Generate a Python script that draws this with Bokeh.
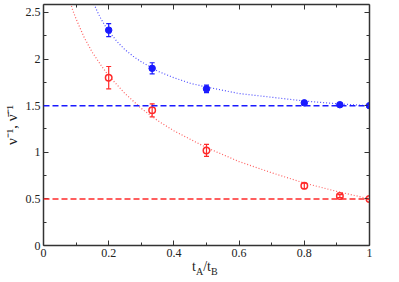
from bokeh.plotting import figure
from bokeh.layouts import column
from bokeh.models import (Range1d, LinearAxis, FixedTicker, CustomJSTickFormatter,
                          Whisker, TeeHead, ColumnDataSource, Span, Div,
                          CustomLabelingPolicy)
from bokeh.embed import file_html
from bokeh.resources import INLINE

# ---- data ----
ratio = [0.2, 1/3, 0.5, 0.8, 10/11, 1.0]
nu_inv = [2.31, 1.90, 1.68, 1.53, 1.51, 1.50]
nu_err = [0.07, 0.06, 0.04, 0.015, 0.01, 0.0]
nubar_inv = [1.80, 1.45, 1.02, 0.64, 0.53, 0.50]
nubar_err = [0.12, 0.07, 0.065, 0.03, 0.015, 0.0]
nu_limit = 1.5
nubar_limit = 0.5

fit_nu_x = [0.155, 0.165, 0.175, 0.19, 0.2, 0.225, 0.25, 0.275, 0.3, 0.35, 0.4, 0.45, 0.5, 0.6, 0.7, 0.8, 0.9, 1.0]
fit_nu_y = [2.59, 2.51, 2.44, 2.35, 2.30, 2.19, 2.10, 2.03, 1.97, 1.87, 1.80, 1.74, 1.70, 1.63, 1.59, 1.55, 1.52, 1.50]
fit_nubar_x = [0.083, 0.09, 0.1, 0.11, 0.125, 0.15, 0.175, 0.2, 0.25, 0.3, 0.35, 0.4, 0.45, 0.5, 0.6, 0.7, 0.8, 0.9, 1.0]
fit_nubar_y = [2.60, 2.52, 2.43, 2.35, 2.23, 2.07, 1.94, 1.82, 1.63, 1.47, 1.34, 1.23, 1.14, 1.05, 0.90, 0.78, 0.67, 0.58, 0.50]

x_ticks = [0, 0.2, 0.4, 0.6, 0.8, 1.0]
x_minor = [0.1, 0.3, 0.5, 0.7, 0.9]
y_ticks = [0, 0.5, 1.0, 1.5, 2.0, 2.5]
y_minor = [0.25, 0.75, 1.25, 1.75, 2.25]

BLUE = "#1a1aff"
RED = "#ff2a2a"
FONT = "Liberation Serif"
AX = "#333333"

p = figure(width=391, height=262, x_range=Range1d(0, 1), y_range=Range1d(0, 2.585),
           output_backend="svg", toolbar_location=None,
           min_border_top=4, min_border_left=43, min_border_right=22, min_border_bottom=17)
p.xgrid.visible = False
p.ygrid.visible = False
p.outline_line_color = None
p.background_fill_color = "white"

fmt = CustomJSTickFormatter(code="return Number(tick.toFixed(2)).toString();")
no_labels = CustomLabelingPolicy(code="return new Set()")

def style(ax, ticks, minor, labels=True):
    ax.ticker = FixedTicker(ticks=ticks, minor_ticks=minor)
    ax.formatter = fmt
    ax.axis_line_color = AX
    ax.axis_line_width = 1.5
    ax.major_tick_line_color = AX
    ax.minor_tick_line_color = AX
    ax.major_tick_in = 5
    ax.major_tick_out = 0
    ax.minor_tick_in = 3
    ax.minor_tick_out = 0
    ax.major_label_text_font = FONT
    ax.major_label_text_color = "#222222"
    ax.major_label_text_font_size = "12px"
    ax.major_label_standoff = 3
    if not labels:
        ax.major_label_policy = no_labels
        ax.major_label_text_font_size = "0px"
        ax.major_label_standoff = 0

style(p.xaxis[0], x_ticks, x_minor)
style(p.yaxis[0], y_ticks, y_minor)
p.yaxis[0].axis_label = "ν\u207b\u00b9, ν\u0304\u207b\u00b9"
p.yaxis[0].axis_label_text_font = FONT
p.yaxis[0].axis_label_text_font_style = "normal"
p.yaxis[0].axis_label_text_font_size = "15px"
p.yaxis[0].axis_label_text_color = "#222222"
p.yaxis[0].axis_label_standoff = 3

top = LinearAxis()
style(top, x_ticks, x_minor, labels=False)
p.add_layout(top, "above")
right = LinearAxis()
style(right, y_ticks, y_minor, labels=False)
p.add_layout(right, "right")

# reference limits
p.add_layout(Span(location=nu_limit, dimension="width", line_color=BLUE,
                  line_width=1.5, line_dash="6 3"))
p.add_layout(Span(location=nubar_limit, dimension="width", line_color=RED,
                  line_width=1.5, line_dash="6 3"))

# fit curves
p.line(fit_nu_x, fit_nu_y, line_color=BLUE, line_alpha=0.75, line_width=1.2, line_dash="1 2")
p.line(fit_nubar_x, fit_nubar_y, line_color=RED, line_alpha=0.75, line_width=1.2, line_dash="1 2")

# error bars
src_nu = ColumnDataSource(dict(x=ratio, y=nu_inv,
                               lo=[v - e for v, e in zip(nu_inv, nu_err)],
                               hi=[v + e for v, e in zip(nu_inv, nu_err)]))
src_nb = ColumnDataSource(dict(x=ratio, y=nubar_inv,
                               lo=[v - e for v, e in zip(nubar_inv, nubar_err)],
                               hi=[v + e for v, e in zip(nubar_inv, nubar_err)]))
for src, col in ((src_nu, BLUE), (src_nb, RED)):
    p.add_layout(Whisker(source=src, base="x", upper="hi", lower="lo",
                         line_color=col, line_width=1.2, level="glyph",
                         upper_head=TeeHead(size=5, line_color=col, line_width=1.2),
                         lower_head=TeeHead(size=5, line_color=col, line_width=1.2)))

p.scatter("x", "y", source=src_nu, marker="circle", size=6.5,
          fill_color=BLUE, line_color=BLUE)
p.scatter("x", "y", source=src_nb, marker="circle", size=6.5,
          fill_color="white", line_color=RED, line_width=1.5)

# x-axis label t_A/t_B with subscripts
xlabel = Div(width=391, height=20, margin=0,
             text=('<div style="position:relative; top:-3px; left:192px; '
                   'font-family:\'Liberation Serif\'; font-size:14px; color:#222; '
                   'white-space:nowrap; line-height:14px;">'
                   't<sub style="font-size:10px;">A</sub>/t<sub style="font-size:10px;">B</sub></div>'))

layout = column(p, xlabel, spacing=0)
open("out.html", "w").write(file_html(layout, INLINE))
